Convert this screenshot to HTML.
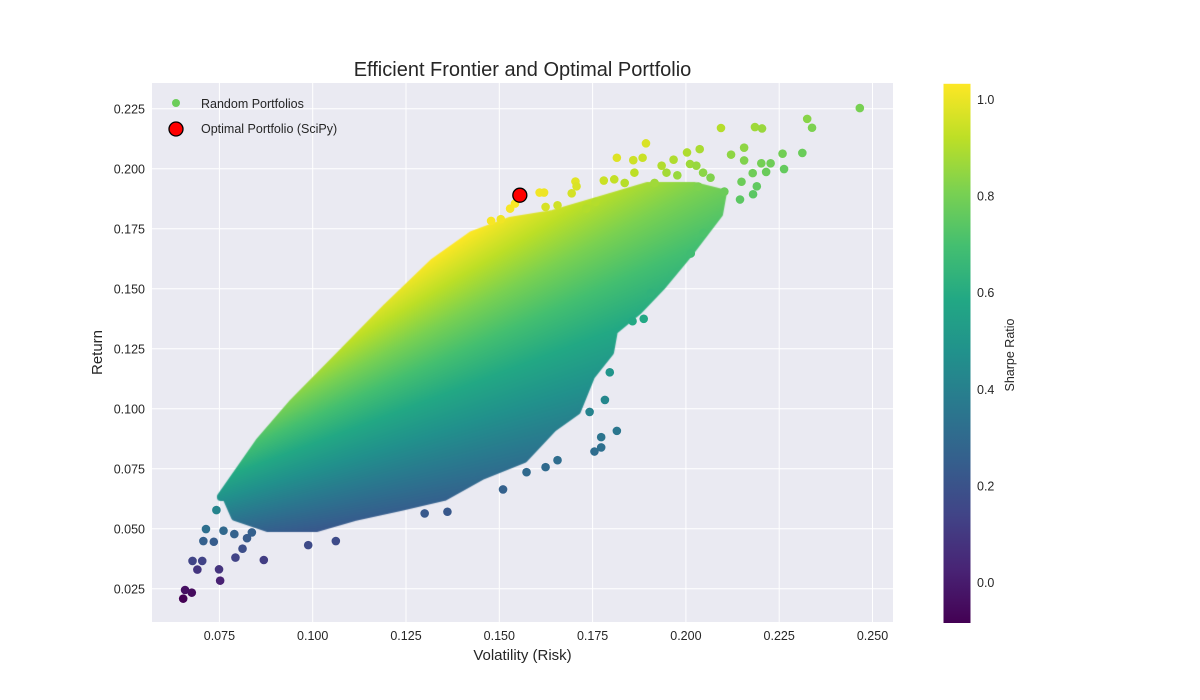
<!DOCTYPE html>
<html><head><meta charset="utf-8"><style>
body{margin:0;background:#fff;}
#wrap{position:relative;width:1200px;height:700px;overflow:hidden;font-family:"Liberation Sans",sans-serif;}
svg,canvas{position:absolute;left:0;top:0;}
</style></head><body>
<div id="wrap">
<svg id="bg" width="1200" height="700"></svg>
<canvas id="cv" width="1200" height="700"></canvas>
<svg id="fg" width="1200" height="700"></svg>
</div>
<script>
// ---- data ----
const xTicks = [0.075,0.100,0.125,0.150,0.175,0.200,0.225,0.250];
const yTicks = [0.025,0.050,0.075,0.100,0.125,0.150,0.175,0.200,0.225];
const cbTicks = [0.0,0.2,0.4,0.6,0.8,1.0];
const riskFree = 0.027;
const sharpeMin = -0.085, sharpeMax = 1.033;
// outline of the dense cloud of random portfolios (volatility, return)
const cloudVol = [0.0754,0.0856,0.0945,0.1073,0.1199,0.1325,0.1427,0.1528,0.1644,0.1770,0.1896,0.2024,0.2099,0.2089,0.2011,0.1936,0.1872,0.1807,0.1797,0.1746,0.1708,0.1644,0.1566,0.1454,0.1352,0.1237,0.1111,0.1009,0.0881,0.0792,0.0768];
const cloudRet = [0.0633,0.0861,0.1022,0.1224,0.1424,0.1612,0.1724,0.1783,0.1812,0.1870,0.1928,0.1928,0.1899,0.1812,0.1653,0.1512,0.1408,0.1324,0.1237,0.1137,0.0991,0.0920,0.0791,0.0721,0.0633,0.0591,0.0549,0.0503,0.0503,0.0549,0.0633];
// sparse individual portfolios
const ptVol = [0.2466,0.2325,0.2338,0.2094,0.2185,0.2204,0.1893,0.2037,0.2003,0.2156,0.2121,0.2259,0.2312,0.1815,0.1859,0.1884,0.1967,0.1935,0.2011,0.2028,0.2156,0.2202,0.2227,0.2263,0.2179,0.2215,0.1862,0.1948,0.1977,0.2046,0.2066,0.2033,0.2149,0.2190,0.2103,0.2180,0.2145,0.1704,0.1780,0.1808,0.1836,0.1916,0.1608,
0.1815,0.1773,0.1755,0.1773,0.1783,0.1742,0.1796,0.1887,0.1857,0.1906,0.2013,0.2047,0.1656,0.1624,0.1573,0.1510,0.1361,0.1300,0.1062,0.0988,0.0869,0.0793,0.0752,0.0749,0.0691,0.0678,0.0704,0.0812,0.0653,0.0676,0.0658,0.0707,0.0735,0.0761,0.0714,0.0742,0.0790,0.0837,0.0824,
0.1529,0.1542,0.1624,0.1656,0.1694,0.1707,0.1758,0.1733,0.1478,0.1504,0.1620];
const ptRet = [0.2253,0.2208,0.2171,0.2170,0.2174,0.2168,0.2106,0.2082,0.2068,0.2088,0.2059,0.2063,0.2066,0.2046,0.2036,0.2046,0.2038,0.2013,0.2020,0.2013,0.2035,0.2023,0.2023,0.1999,0.1982,0.1987,0.1984,0.1984,0.1973,0.1984,0.1963,0.1926,0.1946,0.1927,0.1905,0.1894,0.1872,0.1947,0.1951,0.1956,0.1941,0.1941,0.1901,
0.0908,0.0882,0.0822,0.0839,0.1037,0.0987,0.1152,0.1375,0.1365,0.1482,0.1647,0.1733,0.0786,0.0757,0.0736,0.0664,0.0571,0.0564,0.0449,0.0432,0.0370,0.0380,0.0284,0.0331,0.0330,0.0366,0.0366,0.0417,0.0209,0.0234,0.0245,0.0449,0.0446,0.0492,0.0499,0.0578,0.0478,0.0485,0.0461,
0.1834,0.1855,0.1841,0.1848,0.1898,0.1927,0.1862,0.1834,0.1783,0.1790,0.1901];
const optVol = 0.1555, optRet = 0.189;

// ---- scales ----
const L=152,R=893,T=83,B=622;
const sx=v=>219.4+(v-0.075)*3732;
const sy=v=>108.8-(v-0.225)*2400;
const CBX=943.5,CBW=27,CBT=83.8,CBB=623;
const sc=s=>582-(s-0.0)*483;
const VIR=[[68,1,84],[72,36,117],[65,68,135],[53,95,141],[42,120,142],[33,145,140],[34,168,132],[68,191,112],[122,209,81],[189,223,38],[253,231,37]];
function vir(t){t=Math.max(0,Math.min(1,t));const p=t*10,i=Math.min(9,Math.floor(p)),f=p-i;const a=VIR[i],b=VIR[i+1];return [0,1,2].map(k=>Math.round(a[k]+(b[k]-a[k])*f));}
const sharpe=(v,r)=>(r-riskFree)/v;
const colOf=(v,r)=>{const c=vir((sharpe(v,r)-sharpeMin)/(sharpeMax-sharpeMin));return `rgb(${c[0]},${c[1]},${c[2]})`;};
const NS='http://www.w3.org/2000/svg';
function mk(p,tag,at,txt){const e=document.createElementNS(NS,tag);for(const k in at)e.setAttribute(k,at[k]);if(txt!==undefined)e.textContent=txt;p.appendChild(e);return e;}

// ---- background, grid, axes text ----
const bg=document.getElementById('bg');
let e=mk(bg,'rect',{x:L,y:T,width:R-L,height:B-T,fill:'#eaeaf2'});


xTicks.forEach(t=>{const x=sx(t);
 let g=mk(bg,'line',{x1:x,x2:x,y1:T,y2:B,stroke:'#fff','stroke-width':1});
 
 
 let l=mk(bg,'text',{x:x,y:B+18,'font-size':12.5,fill:'#262626','text-anchor':'middle'},t.toFixed(3));
 
 
});
yTicks.forEach(t=>{const y=sy(t);
 let g=mk(bg,'line',{x1:L,x2:R,y1:y,y2:y,stroke:'#fff','stroke-width':1});
 
 
 let l=mk(bg,'text',{x:L-7,y:y+4.5,'font-size':12.5,fill:'#262626','text-anchor':'end'},t.toFixed(3));
 
 
});
e=mk(bg,'text',{x:(L+R)/2,y:76,'font-size':20,fill:'#262626','text-anchor':'middle'},'Efficient Frontier and Optimal Portfolio');


e=mk(bg,'text',{x:(L+R)/2,y:660,'font-size':15,fill:'#262626','text-anchor':'middle'},'Volatility (Risk)');


e=mk(bg,'text',{x:102,y:(T+B)/2,'font-size':15,fill:'#262626','text-anchor':'middle',transform:`rotate(-90 102 ${(T+B)/2})`},'Return');



// ---- dense cloud on canvas ----
const cv=document.getElementById('cv'),ctx=cv.getContext('2d');
const off=document.createElement('canvas');off.width=1200;off.height=700;
const octx=off.getContext('2d');const id=octx.createImageData(1200,700);
for(let py=T;py<B;py++)for(let px=L;px<R;px++){
 const v=0.075+(px-219.4)/3732, r=0.225-(py-108.8)/2400;
 const c=vir((sharpe(v,r)-sharpeMin)/(sharpeMax-sharpeMin));
 const i=(py*1200+px)*4;id.data[i]=c[0];id.data[i+1]=c[1];id.data[i+2]=c[2];id.data[i+3]=255;}
octx.putImageData(id,0,0);
const pat=ctx.createPattern(off,'no-repeat');
ctx.beginPath();
cloudVol.forEach((v,i)=>{const x=sx(v),y=sy(cloudRet[i]);i?ctx.lineTo(x,y):ctx.moveTo(x,y);});
ctx.closePath();
ctx.fillStyle=pat;ctx.strokeStyle=pat;ctx.lineWidth=8;ctx.lineJoin='round';
ctx.fill();ctx.stroke();

// ---- points, legend, colorbar ----
const fg=document.getElementById('fg');
ptVol.forEach((v,i)=>{
 const p=mk(fg,'circle',{cx:sx(v),cy:sy(ptRet[i]),r:4.3,fill:colOf(v,ptRet[i])});
 
 
});
e=mk(fg,'circle',{cx:sx(optVol),cy:sy(optRet),r:7,fill:'#ff0000',stroke:'#000','stroke-width':1.3});


// legend
e=mk(fg,'circle',{cx:176,cy:103,r:4,fill:'#6ccd5a'});


e=mk(fg,'text',{x:201,y:108,'font-size':12.5,fill:'#262626'},'Random Portfolios');


e=mk(fg,'circle',{cx:176,cy:129,r:7,fill:'#ff0000',stroke:'#000','stroke-width':1.3});


e=mk(fg,'text',{x:201,y:133,'font-size':12.5,fill:'#262626'},'Optimal Portfolio (SciPy)');


// colorbar
const defs=mk(fg,'defs',{});const lg=mk(defs,'linearGradient',{id:'vg',x1:0,y1:1,x2:0,y2:0});
VIR.forEach((c,i)=>mk(lg,'stop',{offset:i/10,'stop-color':`rgb(${c})`}));
e=mk(fg,'rect',{x:CBX,y:CBT,width:CBW,height:CBB-CBT,fill:'url(#vg)'});


cbTicks.forEach(t=>{
 const l=mk(fg,'text',{x:977,y:sc(t)+5,'font-size':12.5,fill:'#262626'},t.toFixed(1));
 
 
});
e=mk(fg,'text',{x:1014,y:355,'font-size':12.5,fill:'#262626','text-anchor':'middle',transform:'rotate(-90 1014 355)'},'Sharpe Ratio');


</script>
</body></html>
